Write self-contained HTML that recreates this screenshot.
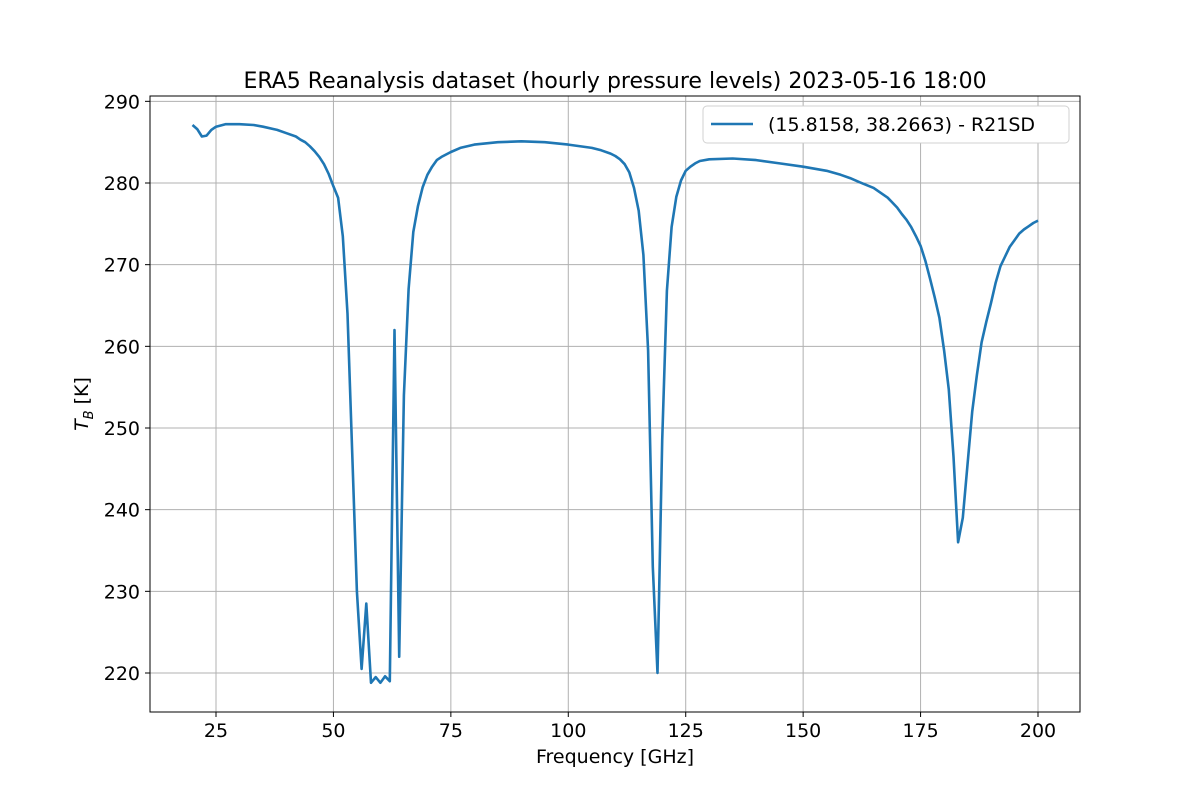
<!DOCTYPE html>
<html><head><meta charset="utf-8">
<style>
body{margin:0;background:#fff;}
svg text{font-family:"DejaVu Sans","Liberation Sans",sans-serif;fill:#000;}
</style></head>
<body>
<svg id="chart" width="1200" height="800" xmlns="http://www.w3.org/2000/svg">
<rect width="1200" height="800" fill="#fff"/>
<g id="grid"></g>
<g id="series"></g>
<rect x="150" y="96" width="930" height="616" fill="none" stroke="#000" stroke-width="1"/>
<g id="ticks"></g>
<text x="615" y="88" font-size="22" text-anchor="middle">ERA5 Reanalysis dataset (hourly pressure levels) 2023-05-16 18:00</text>
<text x="615" y="763" font-size="19" text-anchor="middle">Frequency [GHz]</text>
<text transform="translate(88,404) rotate(-90)" font-size="19" text-anchor="middle"><tspan font-style="italic">T</tspan><tspan font-style="italic" font-size="13" dy="5">B</tspan><tspan dy="-5"> [K]</tspan></text>
<g>
<rect x="703" y="106" width="366" height="37" rx="4" fill="#fff" stroke="#ccc" stroke-opacity="0.9"/>
<line x1="711" y1="124" x2="753" y2="124" stroke="#1f77b4" stroke-width="2.5"/>
<text x="768" y="131" font-size="19">(15.8158, 38.2663) - R21SD</text>
</g>
</svg>
<script>
const freqs=[20,21,22,23,24,25,27,29,30,33,35,38,40,42,43,44,45,46,47,48,49,50,51,52,53,54,55,56,57,58,59,60,61,62,63,64,65,66,67,68,69,70,71,72,73,75,77,80,85,90,95,100,105,107,109,110,111,112,113,114,115,116,117,118,119,120,121,122,123,124,125,126,127,128,130,135,140,145,150,155,158,160,162,165,168,170,171,172,173,174,175,176,177,178,179,180,181,182,183,184,185,186,187,188,189,190,191,192,193,194,195,196,197,198,199,200];
const temps=[287.1,286.6,285.7,285.8,286.5,286.9,287.2,287.2,287.2,287.1,286.9,286.5,286.1,285.7,285.3,285,284.5,283.9,283.2,282.3,281.1,279.6,278.2,273.5,264,247,230,220.5,228.5,218.8,219.5,218.8,219.6,219,262,222,254,267,274,277.2,279.5,281,282,282.8,283.2,283.8,284.3,284.7,285,285.1,285,284.7,284.3,284,283.6,283.3,282.9,282.3,281.3,279.4,276.6,271.2,259.5,233,220,248.5,266.8,274.6,278.3,280.3,281.5,282,282.4,282.7,282.9,283,282.8,282.4,282,281.5,281,280.6,280.1,279.4,278.2,277,276.2,275.5,274.6,273.5,272.3,270.5,268.3,266,263.5,259.5,254.7,246.5,236,239,245.5,252,256.5,260.5,263,265.3,267.8,269.8,271,272.2,273,273.8,274.3,274.7,275.1,275.4];
const xTicks=[25,50,75,100,125,150,175,200];
const yTicks=[220,230,240,250,260,270,280,290];
const X=f=>216+(f-25)*(1038-216)/175;
const Y=t=>183+(280-t)*(490/60);
const NS="http://www.w3.org/2000/svg";
const grid=document.getElementById('grid'),ticks=document.getElementById('ticks'),series=document.getElementById('series');
function mk(tag,attrs,parent){const e=document.createElementNS(NS,tag);for(const k in attrs)e.setAttribute(k,attrs[k]);parent.appendChild(e);return e;}
xTicks.forEach(v=>{
 const x=X(v);
 const g=mk('line',{x1:x,x2:x,y1:96,y2:712,stroke:'#b0b0b0','stroke-width':1},grid);
 
 
 const t=mk('line',{x1:x,x2:x,y1:712,y2:717,stroke:'#000'},ticks);
 
 
 const l=mk('text',{x:x,y:737,'font-size':19,'text-anchor':'middle'},ticks);
 l.textContent=v;
 
 
});
yTicks.forEach(v=>{
 const y=Y(v);
 const g=mk('line',{x1:150,x2:1080,y1:y,y2:y,stroke:'#b0b0b0','stroke-width':1},grid);
 
 
 const t=mk('line',{x1:145,x2:150,y1:y,y2:y,stroke:'#000'},ticks);
 
 
 const l=mk('text',{x:140,y:y+7,'font-size':19,'text-anchor':'end'},ticks);
 l.textContent=v;
 
 
});
const pts=freqs.map((f,i)=>X(f).toFixed(1)+','+Y(temps[i]).toFixed(1)).join(' ');
const pl=mk('polyline',{points:pts,fill:'none',stroke:'#1f77b4','stroke-width':2.6,'stroke-linejoin':'round'},series);


</script>
</body></html>
